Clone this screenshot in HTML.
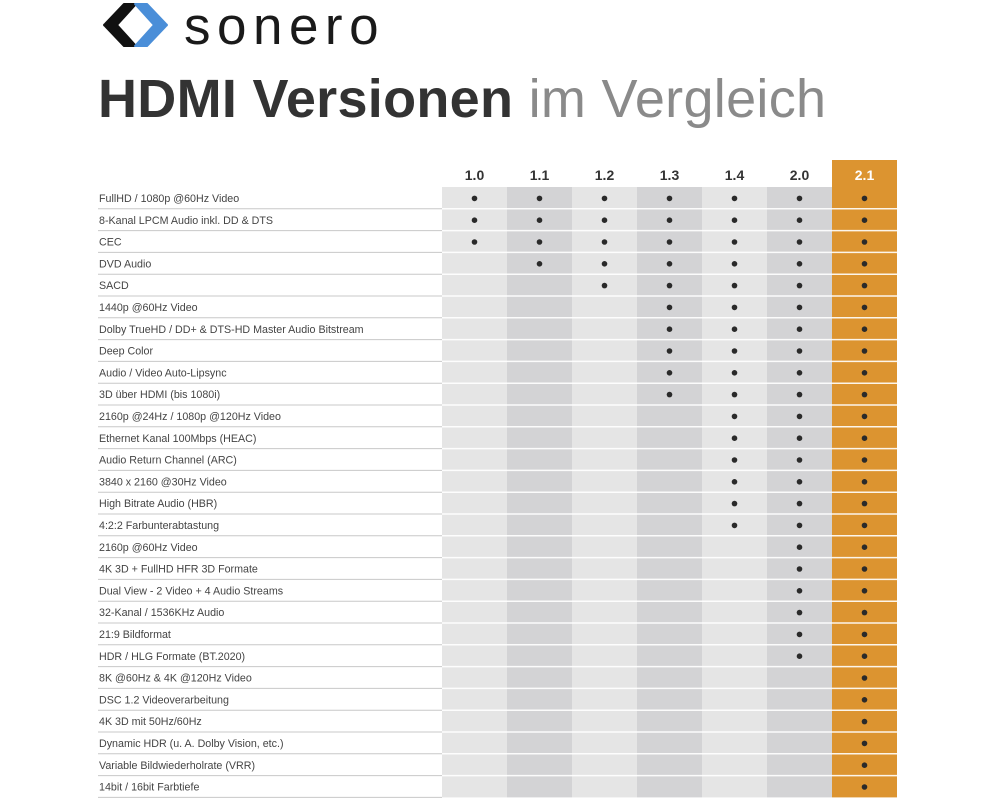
<!DOCTYPE html>
<html><head><meta charset="utf-8">
<style>
html,body{margin:0;padding:0;background:#fff;width:1000px;height:800px;overflow:hidden;font-family:"Liberation Sans",sans-serif;}
#logo-text{position:absolute;left:184px;top:0px;font-size:53px;line-height:1;color:#1a1a1a;letter-spacing:6.5px;}
#title{position:absolute;left:98px;top:68px;font-size:54px;white-space:nowrap;letter-spacing:0.3px;}
#title b{color:#333;}
#title span{color:#8a8a8a;font-weight:normal;}
</style></head><body>
<svg width="70" height="50" style="position:absolute;left:100px;top:1px" viewBox="0 0 70 50">
<path d="M24 3 L36 3 L17 24 L36 45 L24 45 L5 25 Q3 24 5 23 Z" fill="#111" stroke="#111" stroke-width="2" stroke-linejoin="round"/>
<path d="M35 3 L47 3 L66 23 Q68 24 66 25 L47 45 L35 45 L54 24 Z" fill="#4a8ed8" stroke="#4a8ed8" stroke-width="2" stroke-linejoin="round"/>
</svg>
<div id="logo-text">sonero</div>
<div id="title"><b>HDMI Versionen</b> <span>im Vergleich</span></div>
<svg id="chart" width="1000" height="800" style="position:absolute;left:0;top:0"></svg>
<script>
const versions=["1.0","1.1","1.2","1.3","1.4","2.0","2.1"];
const features=["FullHD / 1080p @60Hz Video","8-Kanal LPCM Audio inkl. DD & DTS","CEC","DVD Audio","SACD","1440p @60Hz Video","Dolby TrueHD / DD+ & DTS-HD Master Audio Bitstream","Deep Color","Audio / Video Auto-Lipsync","3D über HDMI (bis 1080i)","2160p @24Hz / 1080p @120Hz Video","Ethernet Kanal 100Mbps (HEAC)","Audio Return Channel (ARC)","3840 x 2160 @30Hz Video","High Bitrate Audio (HBR)","4:2:2 Farbunterabtastung","2160p @60Hz Video","4K 3D + FullHD HFR 3D Formate","Dual View - 2 Video + 4 Audio Streams","32-Kanal / 1536KHz Audio","21:9 Bildformat","HDR / HLG Formate (BT.2020)","8K @60Hz & 4K @120Hz Video","DSC 1.2 Videoverarbeitung","4K 3D mit 50Hz/60Hz","Dynamic HDR (u. A. Dolby Vision, etc.)","Variable Bildwiederholrate (VRR)","14bit / 16bit Farbtiefe"];
const firstVersion=["1.0","1.0","1.0","1.1","1.2","1.3","1.3","1.3","1.3","1.3","1.4","1.4","1.4","1.4","1.4","1.4","2.0","2.0","2.0","2.0","2.0","2.0","2.1","2.1","2.1","2.1","2.1","2.1"];
const NS="http://www.w3.org/2000/svg";
const svg=document.getElementById('chart');
const labelX0=98, colX0=442, colW=65, top0=187, rowH=21.8, headTop=160;
function xCol(i){return colX0+i*colW;}
function yRow(j){return top0+j*rowH;}
function mk(t,a){const e=document.createElementNS(NS,t);for(const k in a)e.setAttribute(k,a[k]);svg.appendChild(e);return e;}
const bottom=yRow(features.length);
versions.forEach((v,i)=>{
  const last=i===versions.length-1;
  const fill=last?"#dc9430":(i%2===0?"#e5e5e5":"#d3d3d5");
  const r=mk('rect',{x:xCol(i),y:last?headTop:top0,width:colW,height:bottom-(last?headTop:top0),fill:fill});
  
  
  const t=mk('text',{x:xCol(i)+colW/2,y:180,'text-anchor':'middle','font-size':14,'font-weight':'bold',fill:last?'#fff':'#333'});
  t.textContent=v;
  
  
});
features.forEach((f,j)=>{
  const y=yRow(j);
  const ln=mk('line',{x1:labelX0,x2:colX0,y1:y+rowH,y2:y+rowH,stroke:'#c8c8c8','stroke-width':1});
  
  
  const wl=mk('line',{x1:colX0,x2:xCol(versions.length),y1:y+rowH,y2:y+rowH,stroke:'#fff','stroke-width':1.5,'stroke-opacity':j===features.length-1?0:0.9});
  
  
  const t=mk('text',{x:labelX0+1,y:y+15,'font-size':10.7,fill:'#444'});
  t.textContent=f;
  
  
  const start=versions.indexOf(firstVersion[j]);
  versions.forEach((v,i)=>{
    if(i>=start){
      const c=mk('circle',{cx:xCol(i)+colW/2,cy:y+rowH/2+0.5,r:2.8,fill:'#2a2a2a'});
      
      
    }
  });
});
</script>
</body></html>
